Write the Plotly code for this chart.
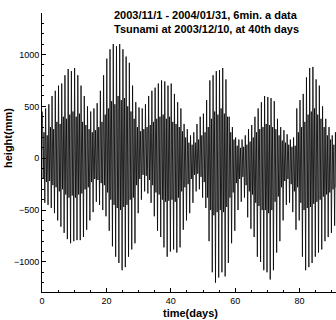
import plotly.graph_objects as go

# Daily tide extremes (mm), day 0 = 2003/11/01
day = list(range(92))
# higher high water of each day
high_mm = [450, 480, 520, 600, 650, 700, 720, 800, 860, 840,
           870, 800, 700, 600, 500, 450, 480, 530, 650, 800,
           960, 1050, 1100, 1080, 1100, 1050, 980, 920, 700, 540,
           490, 480, 520, 600, 650, 680, 720, 750, 740, 700,
           720, 620, 540, 480, 330, 280, 220, 250, 330, 400,
           430, 560, 750, 800, 840, 850, 870, 760, 400, 300,
           200, 180, 180, 220, 280, 320, 400, 480, 540, 600,
           590, 580, 550, 380, 300, 270, 230, 180, 200, 480,
           560, 620, 780, 870, 880, 760, 700, 500, 380, 300,
           220, 250]
# lower high water of each day
high2_mm = [250, 220, 300, 280, 350, 330, 400, 380, 420, 450,
            400, 430, 350, 320, 280, 250, 270, 300, 350, 420,
            480, 550, 520, 600, 560, 580, 500, 450, 380, 300,
            260, 280, 300, 320, 350, 380, 400, 420, 380, 400,
            350, 330, 300, 260, 200, 150, 130, 150, 180, 220,
            250, 300, 380, 450, 420, 480, 430, 400, 250, 180,
            120, 100, 110, 130, 160, 200, 250, 280, 300, 330,
            320, 300, 280, 220, 170, 150, 130, 110, 120, 250,
            300, 350, 420, 450, 480, 420, 380, 300, 220, 180,
            130, 150]
# lower low water of each day
low_mm = [-430, -450, -480, -530, -600, -660, -720, -780, -820, -800,
          -790, -790, -760, -690, -600, -520, -420, -450, -500, -560,
          -700, -850, -950, -1010, -1080, -1050, -950, -880, -820, -530,
          -400, -320, -340, -430, -560, -700, -760, -860, -950, -900,
          -880, -910, -860, -690, -600, -530, -430, -320, -300, -380,
          -480, -800, -1100, -1200, -1150, -1100, -1140, -1010, -820, -700,
          -500, -420, -380, -570, -680, -760, -950, -1000, -1080, -1100,
          -1170, -1080, -910, -800, -600, -450, -430, -520, -690, -600,
          -950, -1080, -1050, -1010, -950, -910, -880, -800, -760, -720,
          -650, -600]
# higher low water of each day
low2_mm = [-200, -230, -220, -260, -280, -320, -300, -350, -380, -360,
           -380, -350, -340, -300, -280, -230, -200, -210, -240, -260,
           -330, -400, -450, -480, -500, -470, -450, -400, -380, -260,
           -200, -160, -170, -210, -260, -330, -350, -400, -420, -410,
           -400, -420, -380, -320, -280, -250, -200, -160, -150, -180,
           -230, -380, -500, -550, -520, -500, -520, -470, -380, -330,
           -240, -200, -180, -260, -320, -350, -430, -460, -500, -500,
           -530, -500, -420, -370, -280, -220, -200, -250, -320, -280,
           -430, -500, -480, -470, -440, -420, -400, -370, -350, -330,
           -300, -280]
x_ticks = [0, 20, 40, 60, 80]
y_ticks = [-1000, -500, 0, 500, 1000]

xs, ys = [], []
for d, h, l2, h2, l in zip(day, high_mm, low2_mm, high2_mm, low_mm):
    xs += [d + 0.125, d + 0.375, d + 0.625, d + 0.875]
    ys += [h, l2, h2, l]

fig = go.Figure(go.Scatter(x=xs, y=ys, mode="lines",
                           line=dict(color="black", width=0.8),
                           hoverinfo="skip"))

axis_common = dict(showgrid=False, zeroline=False, showline=True,
                   linecolor="black", linewidth=1, ticks="inside",
                   ticklen=4, tickwidth=1, tickcolor="black", automargin=False,
                   tickfont=dict(family="Liberation Sans, Arial", size=9, color="black"))

fig.update_xaxes(range=[0, 91.3], tickvals=x_ticks,
                 minor=dict(ticks="inside", dtick=5, ticklen=2, tickcolor="black"),
                 **axis_common)
fig.update_yaxes(range=[-1290, 1400], tickvals=y_ticks,
                 minor=dict(ticks="inside", dtick=100, ticklen=2, tickcolor="black"),
                 **axis_common)

bold = dict(family="Liberation Sans, Arial", size=11, color="black")
fig.update_layout(
    width=336, height=320,
    margin=dict(l=42, r=0, t=13, b=28),
    paper_bgcolor="white", plot_bgcolor="white",
    showlegend=False,
    annotations=[
        dict(text="<b>2003/11/1 - 2004/01/31, 6min. a data</b>", x=206, y=15,
             xref="paper", yref="paper", showarrow=False, font=bold),
        dict(text="<b>Tsunami at 2003/12/10, at 40th days</b>", x=206, y=29,
             xref="paper", yref="paper", showarrow=False, font=bold),
        dict(text="<b>time(days)</b>", x=190, y=313,
             xref="paper", yref="paper", showarrow=False, font=bold),
        dict(text="<b>height(mm)</b>", x=8, y=138, textangle=-90,
             xref="paper", yref="paper", showarrow=False, font=bold),
    ],
)

# convert pixel positions (centres) of annotations to paper coordinates
pw = 336 - 42 - 0
ph = 320 - 13 - 28
for a in fig.layout.annotations:
    a.x = (a.x - 42) / pw
    a.y = (320 - 28 - a.y) / ph
    a.xanchor = "center"
    a.yanchor = "middle"

fig.write_html("out.html",
               config={"displayModeBar": False, "staticPlot": True},
               post_script="document.body.style.margin='0';document.body.style.overflow='hidden';")
